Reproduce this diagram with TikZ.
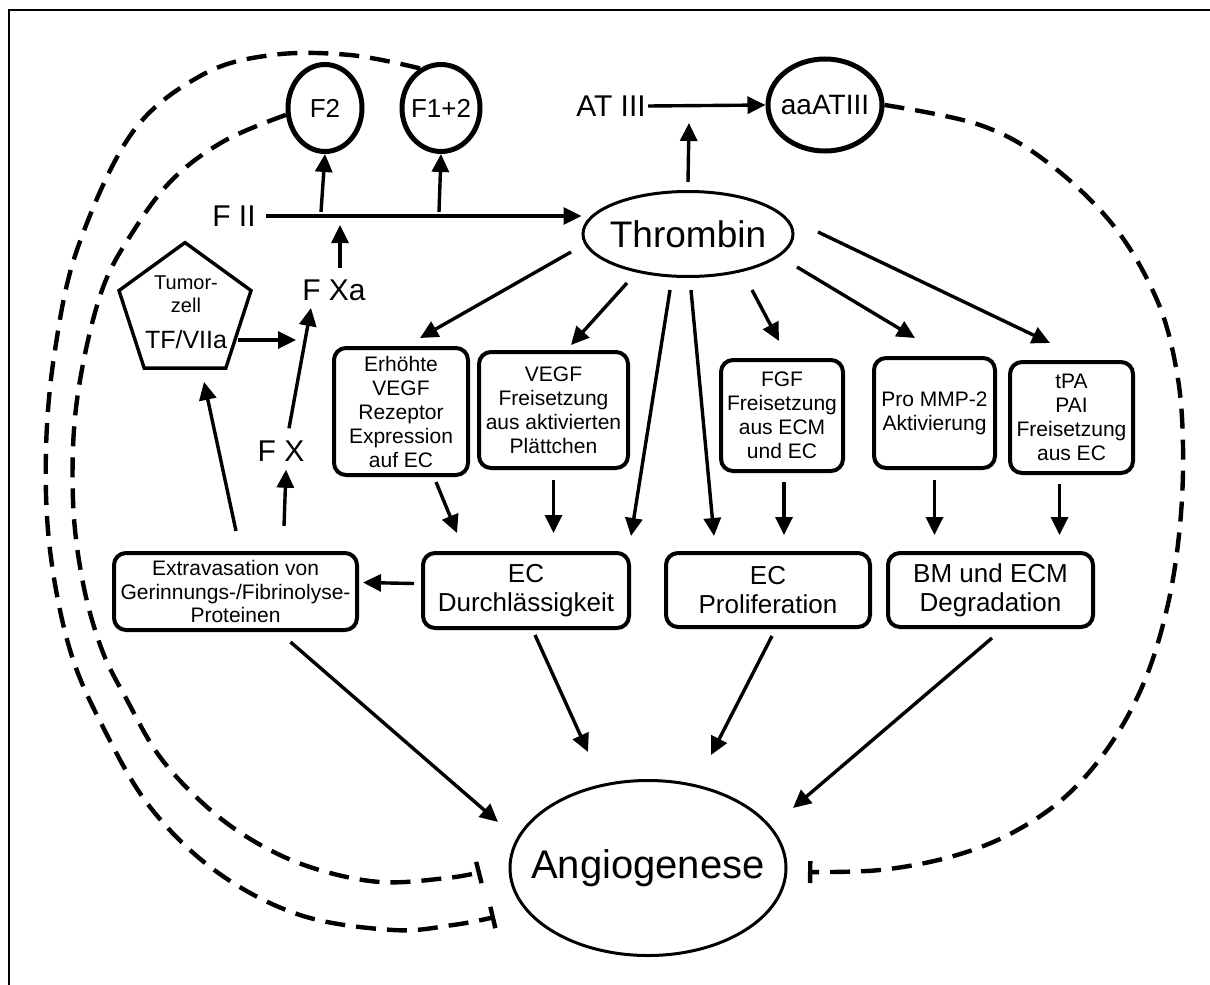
\documentclass[tikz,border=0pt]{standalone}
\usepackage{fontspec}
\setmainfont{Liberation Sans}
\usetikzlibrary{arrows.meta,shapes.geometric}
\begin{document}
\begin{tikzpicture}[x=0.5pt,y=-0.5pt,
  arr/.style={line width=1.7pt,-{Triangle[length=9pt,width=8.5pt]}},
  inh/.style={line width=2.2pt,dash pattern=on 10pt off 5.5pt,-{Bar[width=11pt,line width=2.2pt]}},
  box/.style={draw,line width=2pt,rounded corners=6pt,align=center,inner sep=0pt,font=\fontsize{10.5}{12}\selectfont},
  bigbox/.style={draw,line width=2pt,rounded corners=6pt,align=center,inner sep=0pt,font=\fontsize{13}{14.5}\selectfont},
  lab/.style={font=\fontsize{15}{18}\selectfont,inner sep=1pt},
  circ/.style={draw,ellipse,line width=2.5pt,inner sep=0pt,font=\fontsize{13}{15}\selectfont},
  oval/.style={draw,ellipse,line width=1.5pt,inner sep=0pt,font=\fontsize{18.5}{20}\selectfont},
]
\useasboundingbox (0,0) rectangle (1210,985);
\draw[line width=1pt] (9,985) -- (9,10) -- (1210,10);

% top row
\node[circ,minimum width=37pt,minimum height=43.5pt] (F2) at (325,108) {F2};
\node[circ,minimum width=39pt,minimum height=43.5pt,inner xsep=-3pt] (F12) at (441,108) {F1+2};
\node[lab] (AT) at (611,106) {AT III};
\node[circ,minimum width=57pt,minimum height=46pt,inner xsep=-5pt,font=\fontsize{14}{16}\selectfont] (aaAT) at (825,105) {aaATIII};
\node[oval,minimum width=105pt,minimum height=42.5pt,inner xsep=-5pt] (Th) at (688,234) {Thrombin};
\node[lab] (FII) at (234,216) {F II};
\node[lab] (FXa) at (334,290) {F Xa};
\node[lab] (FX) at (281,451) {F X};

% tumour cell
\node[draw,regular polygon,regular polygon sides=5,minimum size=69.4pt,line width=1.7pt,inner sep=0pt] (Tum) at (185,312) {};
\node[align=center,inner sep=0pt] (TumT) at (186,312) {\fontsize{10}{11.5}\selectfont Tumor-\\[-0.5pt]\fontsize{10}{11.5}\selectfont zell\\[6pt]\fontsize{12.5}{14}\selectfont TF/VIIa};

% middle boxes
\node[box,minimum width=67pt,minimum height=63.5pt] (B1) at (401,411.5) {Erhöhte\\VEGF\\Rezeptor\\Expression\\auf EC};
\node[box,minimum width=74.5pt,minimum height=58pt] (B2) at (553.5,410) {VEGF\\Freisetzung\\aus aktivierten\\Plättchen};
\node[box,minimum width=61pt,minimum height=55.5pt] (B3) at (782,415.5) {FGF\\Freisetzung\\aus ECM\\und EC};
\node[box,minimum width=60.5pt,minimum height=55pt] (B4) at (934.5,413) {Pro MMP-2\\Aktivierung};
\node[box,minimum width=61.5pt,minimum height=55.5pt] (B5) at (1071.5,417.5) {tPA\\PAI\\Freisetzung\\aus EC};

% lower boxes
\node[box,minimum width=121.5pt,minimum height=38.5pt,font=\fontsize{10.5}{11.75}\selectfont] (Ext) at (235.5,591.5) {Extravasation von\\Gerinnungs-/Fibrinolyse-\\Proteinen};
\node[bigbox,minimum width=103pt,minimum height=37.5pt] (ECD) at (526,590.5) {EC\\Durchlässigkeit};
\node[bigbox,minimum width=102pt,minimum height=37pt] (ECP) at (768,590) {EC\\Proliferation};
\node[bigbox,minimum width=102.5pt,minimum height=37pt] (BM) at (990.5,590) {BM und ECM\\Degradation};

\node[oval,minimum width=138pt,minimum height=87.5pt,inner xsep=-11pt,font=\fontsize{20}{22}\selectfont] (Ang) at (648,868) {Angiogenese};

% junction points on lines
\coordinate (j1) at (321,212);
\coordinate (j2) at (439,212);
\coordinate (j3) at (340,225);
\coordinate (j4) at (689,123);
\coordinate (j5) at (296,340);
\coordinate (j6) at (311,308);

% coagulation chain
\draw[arr] ([shift={(8,0)}]FII.east) -- (Th.west |- FII.east);
\draw[arr] (j1) -- (F2.south);
\draw[arr] (j2) -- (F12.south);
\draw[arr] ([shift={(6,-9)}]FXa.north) -- (j3);
\draw[arr] ([shift={(0,-8)}]Th.north) -- (j4);
\draw[arr] (AT.east) -- (aaAT.west);
\draw[arr] ([shift={(-8,0)}]Tum.east |- j5) -- (j5);
\draw[arr] ([shift={(8,-10)}]FX.north) -- (j6);
\draw[arr] ([shift={(48.5,-25)}]Ext.north) -- ([shift={(5,6)}]FX.south);
\draw[arr] ([shift={(0.5,-20)}]Ext.north) -- ([shift={(19,12)}]Tum.south);
\draw[arr] ([shift={(-7,-7)}]ECD.west) -- ([shift={(4,-9)}]Ext.east);

% thrombin effects
\draw[arr] ([shift={(-117,18)}]Th.center) -- ([shift={(19,-8)}]B1.north);
\draw[arr] ([shift={(-61,49)}]Th.center) -- ([shift={(17.5,-5)}]B2.north);
\draw[arr] ([shift={(-18,56)}]Th.center) -- ([shift={(0,-15)}]ECD.north east);
\draw[arr] ([shift={(3,56)}]Th.center) -- ([shift={(50,-15)}]ECP.north west);
\draw[arr] ([shift={(64,56)}]Th.center) -- ([shift={(-3,-17)}]B3.north);
\draw[arr] ([shift={(109,33)}]Th.center) -- ([shift={(-19.5,-18)}]B4.north);
\draw[arr] ([shift={(130,-2)}]Th.center) -- ([shift={(-21.5,-17)}]B5.north);

% box to box
\draw[arr] ([shift={(35,5)}]B1.south) -- ([shift={(-69,-18)}]ECD.north);
\draw[arr] ([shift={(0,10)}]B2.south) -- ([shift={(0,-18)}]B2.south |- ECD.north);
\draw[arr] ([shift={(2,9)}]B3.south) -- ([shift={(2,-16)}]B3.south |- ECP.north);
\draw[arr] ([shift={(0,10)}]B4.south) -- ([shift={(0,-16)}]B4.south |- BM.north);
\draw[arr] ([shift={(-12,9)}]B5.south) -- ([shift={(-12,-16)}]B5.south |- BM.north);

% to angiogenesis
\draw[arr] ([shift={(55,10)}]Ext.south) -- ([shift={(-150,-46)}]Ang.center);
\draw[arr] ([shift={(9,5)}]ECD.south) -- ([shift={(-60,-116)}]Ang.center);
\draw[arr] ([shift={(4,7)}]ECP.south) -- ([shift={(63,-113)}]Ang.center);
\draw[arr] ([shift={(1.5,9)}]BM.south) -- ([shift={(145,-60)}]Ang.center);

% inhibitory feedback
\draw[inh] plot[smooth,tension=0.6] coordinates {(F12.118) (350,55) (272,55) (202,75) (132,133) (78,247) (55,350) (46,450) (50,550) (70,650) (103,727) (150,807) (217,872) (300,915) (393,930) (453,925) (495,917)};
\draw[inh] plot[smooth,tension=0.6] coordinates {(F2.190) (226,140) (175,177) (136,227) (101,293) (77,400) (73,500) (83,583) (102,650) (127,700) (160,757) (207,807) (257,843) (313,868) (380,882) (447,878) (481,872)};
\draw[inh] plot[smooth,tension=0.6] coordinates {(aaAT.east) (980,125) (1047,162) (1113,225) (1157,300) (1177,373) (1183,446) (1180,525) (1168,604) (1145,680) (1110,745) (1065,797) (1010,834) (950,857) (880,870) (808,872)};
\end{tikzpicture}
\end{document}
